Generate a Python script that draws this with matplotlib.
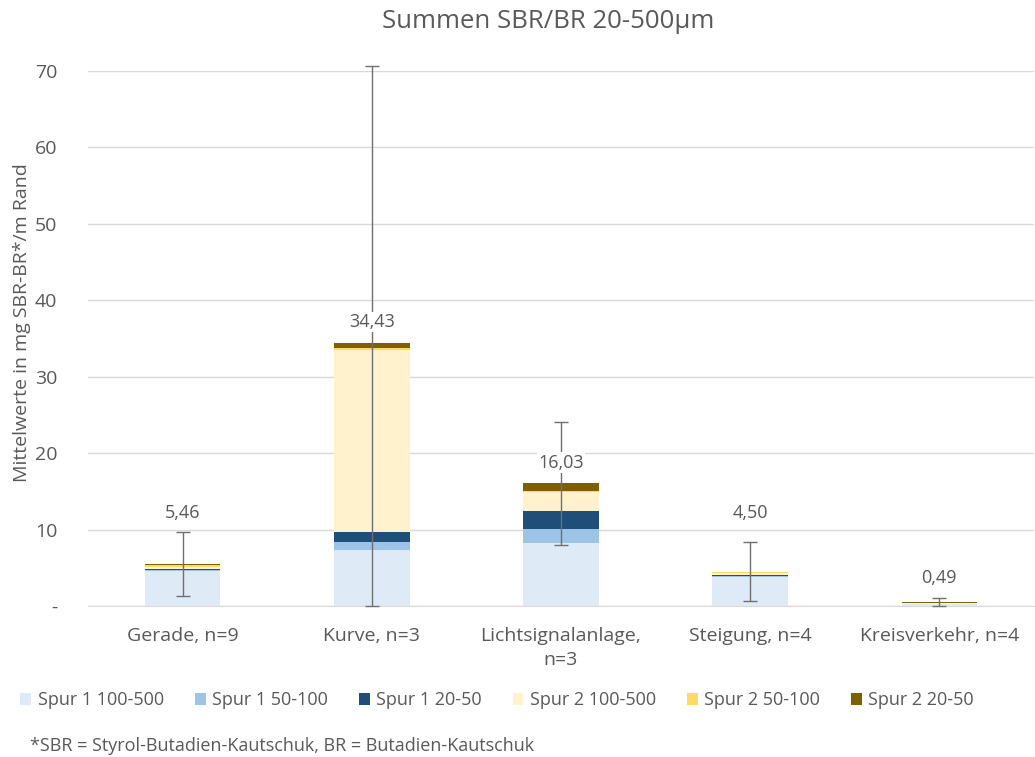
import matplotlib.pyplot as plt
import numpy as np

plt.rcParams['font.family'] = ['Open Sans', 'DejaVu Sans']

# Daten
kategorien = ['Gerade, n=9', 'Kurve, n=3', 'Lichtsignalanlage,\nn=3',
              'Steigung, n=4', 'Kreisverkehr, n=4']
serien = ['Spur 1 100-500', 'Spur 1 50-100', 'Spur 1 20-50',
          'Spur 2 100-500', 'Spur 2 50-100', 'Spur 2 20-50']
spur1_100_500 = [4.55, 7.30, 8.25, 3.85, 0.20]
spur1_50_100 = [0.15, 1.05, 1.85, 0.10, 0.05]
spur1_20_50 = [0.10, 1.30, 2.30, 0.10, 0.05]
spur2_100_500 = [0.30, 23.90, 2.45, 0.20, 0.10]
spur2_50_100 = [0.25, 0.15, 0.15, 0.20, 0.05]
spur2_20_50 = [0.11, 0.73, 1.03, 0.05, 0.04]
summen = [5.46, 34.43, 16.03, 4.50, 0.49]
fehler = [4.2, 36.2, 8.05, 3.9, 0.5]

farben = ['#DEEBF7', '#9DC3E6', '#1F4E79', '#FFF2CC', '#FFD966', '#7F6000']
label_abstand = [37, 15, 14.8, 42, 17.5]  # Punkte ueber dem Balken

grau = '#595959'

fig = plt.figure(figsize=(10.35, 7.57), dpi=100)
ax = fig.add_axes([0.085, 0.1995, 0.914, 0.7067])

x = np.arange(len(kategorien))
unten = np.zeros(len(kategorien))
werte = [spur1_100_500, spur1_50_100, spur1_20_50,
         spur2_100_500, spur2_50_100, spur2_20_50]
for name, w, f in zip(serien, werte, farben):
    ax.bar(x, w, 0.4, bottom=unten, color=f, label=name, zorder=2)
    unten = unten + np.array(w)

# Fehlerbalken unten bei 0 abschneiden
fehler_unten = np.minimum(fehler, summen)
ax.errorbar(x, summen, yerr=[fehler_unten, fehler], fmt='none', ecolor='#6F6F6F',
            elinewidth=1, capsize=5, capthick=1, zorder=3, clip_on=False)

for i, s in enumerate(summen):
    ax.annotate(('%.2f' % s).replace('.', ','), (x[i], s),
                xytext=(0, label_abstand[i]), textcoords='offset points',
                ha='center', va='center', fontsize=13, color=grau, zorder=4,
                bbox=dict(facecolor='white', edgecolor='none', pad=1))

ax.set_xlim(-0.5, len(kategorien) - 0.5)
ax.set_ylim(0, 70)
ax.set_yticks(range(0, 71, 10))
ax.set_yticklabels(['-'] + [str(v) for v in range(10, 71, 10)])
ax.set_xticks(x)
ax.set_xticklabels(kategorien, linespacing=1.45)
ax.tick_params(axis='both', length=0, labelsize=14, labelcolor=grau)
ax.tick_params(axis='y', pad=22)
ax.tick_params(axis='x', pad=15)
ax.yaxis.grid(True, color='#D9D9D9', linewidth=1, zorder=0)
ax.set_axisbelow(True)
for s in ['top', 'right', 'left']:
    ax.spines[s].set_visible(False)
ax.spines['bottom'].set_color('#D9D9D9')

ax.set_ylabel('Mittelwerte in mg SBR-BR*/m Rand', fontsize=14, color=grau)
ax.yaxis.set_label_coords(-0.06, 0.53)
fig.text(0.5295, 0.971, 'Summen SBR/BR 20-500µm', fontsize=18.5, color=grau,
         ha='center', va='center')

fig.legend(loc='center left', bbox_to_anchor=(0.004, 0.075), ncol=6,
           frameon=False, fontsize=13, handlelength=0.6, handleheight=0.7,
           handletextpad=0.35, columnspacing=1.72, labelcolor=grau)

fig.text(0.029, 0.003, '*SBR = Styrol-Butadien-Kautschuk, BR = Butadien-Kautschuk',
         fontsize=13, color=grau, ha='left', va='bottom')

fig.savefig('out.png', dpi=100)
